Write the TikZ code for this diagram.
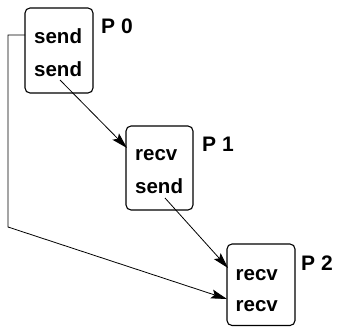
\documentclass[tikz,border=0pt]{standalone}
\usepackage{fontspec}
\setmainfont{Liberation Sans}
\usetikzlibrary{arrows.meta}
\begin{document}
\begin{tikzpicture}[x=1pt,y=-1pt,
  proc/.style={draw,line width=1.1pt,rounded corners=5pt},
  op/.style={anchor=base west,inner sep=0pt,font=\fontsize{20.5}{24}\selectfont\bfseries},
  plabel/.style={anchor=base west,inner sep=0pt,font=\fontsize{21}{25}\selectfont\bfseries},
  msg/.style={line width=0.8pt,-{Stealth[length=16pt,width=9pt,inset=3pt]}}]
\useasboundingbox (0,0) rectangle (342,327);
% boxes
\draw[proc] (25,8) rectangle (93,93);
\draw[proc] (126,126) rectangle (193,210);
\draw[proc] (227,244) rectangle (295,325.5);
% texts
\node[op] (s1) at (34,43.3) {send};
\node[op] (s2) at (34,76.7) {send};
\node[op] (r1) at (135,160) {recv};
\node[op] (s3) at (135,193.3) {send};
\node[op] (r2) at (235.5,280) {recv};
\node[op] (r3) at (235.5,311.7) {recv};
% labels
\node[plabel] (p0) at (101,33.8) {P 0};
\node[plabel] (p1) at (202,151.7) {P 1};
\node[plabel] (p2) at (301,270) {P 2};
% connector points
\coordinate (a1s) at (60,80);
\coordinate (a1e) at (127,148);
\coordinate (a2s) at (165,198);
\coordinate (a2e) at (228,268);
\coordinate (a3s) at (25,35);
\coordinate (a3c1) at (8,35);
\coordinate (a3c2) at (8,227);
\coordinate (a3e) at (227,299);
\draw[msg] (a1s) -- (a1e);
\draw[msg] (a2s) -- (a2e);
\draw[msg] (a3s) -- (a3c1) -- (a3c2) -- (a3e);
\end{tikzpicture}
\end{document}
